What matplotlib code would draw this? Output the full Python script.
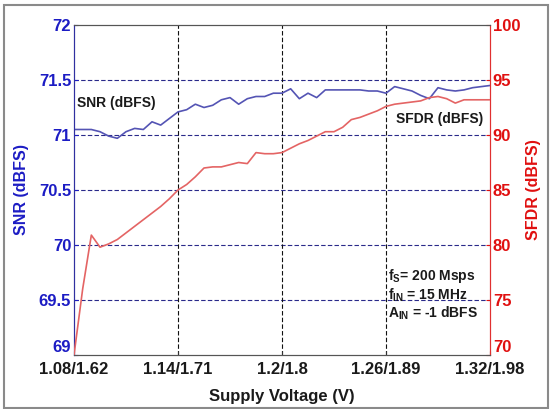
import matplotlib
matplotlib.use("Agg")
import matplotlib.pyplot as plt
from matplotlib.patches import Rectangle
import numpy as np

plt.rcParams['font.family'] = ['Liberation Sans', 'DejaVu Sans']

supply_v = [1.080, 1.085, 1.090, 1.095, 1.100, 1.105, 1.110, 1.115, 1.120, 1.125,
            1.130, 1.135, 1.140, 1.145, 1.150, 1.155, 1.160, 1.165, 1.170, 1.175,
            1.180, 1.185, 1.190, 1.195, 1.200, 1.205, 1.210, 1.215, 1.220, 1.225,
            1.230, 1.235, 1.240, 1.245, 1.250, 1.255, 1.260, 1.265, 1.270, 1.275,
            1.280, 1.285, 1.290, 1.295, 1.300, 1.305, 1.310, 1.315, 1.320]

snr = [71.05, 71.05, 71.05, 71.03, 70.99, 70.97, 71.03, 71.06, 71.05, 71.12,
       71.09, 71.15, 71.21, 71.23, 71.28, 71.25, 71.27, 71.32, 71.34, 71.28,
       71.33, 71.35, 71.35, 71.38, 71.38, 71.42, 71.33, 71.38, 71.34, 71.41,
       71.41, 71.41, 71.41, 71.41, 71.40, 71.40, 71.38, 71.44, 71.42, 71.40,
       71.36, 71.33, 71.43, 71.41, 71.40, 71.41, 71.43, 71.44, 71.45]

sfdr = [70.0, 76.0, 80.9, 79.8, 80.1, 80.5, 81.1, 81.7, 82.3, 82.9,
        83.5, 84.2, 85.0, 85.5, 86.2, 87.0, 87.1, 87.1, 87.3, 87.5,
        87.4, 88.4, 88.3, 88.3, 88.4, 88.8, 89.2, 89.5, 89.9, 90.3,
        90.3, 90.7, 91.4, 91.6, 91.9, 92.2, 92.6, 92.8, 92.9, 93.0,
        93.1, 93.4, 93.5, 93.3, 92.9, 93.2, 93.2, 93.2, 93.2]

xticks = [1.08, 1.14, 1.20, 1.26, 1.32]
xticklabels = ['1.08/1.62', '1.14/1.71', '1.2/1.8', '1.26/1.89', '1.32/1.98']
snr_ticks = [69, 69.5, 70, 70.5, 71, 71.5, 72]
snr_ticklabels = ['69', '69.5', '70', '70.5', '71', '71.5', '72']
sfdr_ticks = [70, 75, 80, 85, 90, 95, 100]

blue_txt = '#1c1cc4'
red_txt = '#e01010'
blue_line = '#5454b4'
red_line = '#e46464'

fig = plt.figure(figsize=(5.51, 4.09), dpi=100)
fig.patch.set_facecolor('white')
fig.patches.append(Rectangle((4/551, 1/409), 544/551, 403/409, transform=fig.transFigure,
                             fill=False, edgecolor='#8a8a8a', linewidth=1.5))

ax = fig.add_axes([74/551, 54/409, 416/551, 330/409])
ax2 = ax.twinx()

ax.set_xlim(1.08, 1.32)
ax.set_ylim(69, 72)
ax2.set_ylim(70, 100)

# grid
for yv in snr_ticks[1:-1]:
    ax.axhline(yv, color='#2a2a8a', linestyle=(0, (4, 2)), linewidth=0.8, zorder=1)
for xv in xticks[1:-1]:
    ax.axvline(xv, color='#111111', linestyle=(0, (4, 2)), linewidth=0.8, zorder=1)

ax.plot(supply_v, snr, color=blue_line, linewidth=1.2, zorder=3)
ax2.plot(supply_v, sfdr, color=red_line, linewidth=1.2, zorder=3)

ax.set_xticks(xticks)
ax.set_xticklabels(xticklabels, fontsize=12, fontweight='bold', color='#1a1a1a')
ax.set_yticks(snr_ticks)
ax.set_yticklabels(snr_ticklabels, fontsize=12, fontweight='bold', color=blue_txt)
ax2.set_yticks(sfdr_ticks)
ax2.set_yticklabels([str(v) for v in sfdr_ticks], fontsize=12, fontweight='bold', color=red_txt)
ax.get_yticklabels()[0].set_va('bottom')
ax2.get_yticklabels()[0].set_va('bottom')

ax.tick_params(axis='x', direction='in', length=3, pad=5, color='#333333')
ax.tick_params(axis='y', direction='in', length=3, pad=2, color=blue_txt)
ax2.tick_params(axis='y', direction='in', length=3, pad=2, color=red_txt)

ax.set_xlabel('Supply Voltage (V)', fontsize=12, fontweight='bold', color='#1a1a1a', labelpad=9)
ax.set_ylabel('SNR (dBFS)', fontsize=11.5, fontweight='bold', color=blue_txt)
ax2.set_ylabel('SFDR (dBFS)', fontsize=11.5, fontweight='bold', color=red_txt)
ax.yaxis.set_label_coords(-45/416, 0.5)
ax2.yaxis.set_label_coords(1 + 36/416, 0.5)

for s in ['top', 'bottom']:
    ax.spines[s].set_color('#555555')
    ax2.spines[s].set_color('#555555')
ax2.spines['left'].set_color('#3030a0')
ax2.spines['right'].set_color('#e03030')
ax.spines['left'].set_color('#3030a0')
ax.spines['right'].set_color('#e03030')

ax.text(1.0815, 71.29, 'SNR (dBFS)', fontsize=10, fontweight='bold', color='#1a1a1a', va='center')
ax.text(1.2658, 71.145, 'SFDR (dBFS)', fontsize=10, fontweight='bold', color='#1a1a1a', va='center')

ax.text(1.2612, 69.72, r'f$_\mathregular{S}$= 200 Msps', fontsize=10, fontweight='bold', color='#1a1a1a', va='center')
ax.text(1.2612, 69.54, r'f$_\mathregular{IN}$ = 15 MHz', fontsize=10, fontweight='bold', color='#1a1a1a', va='center')
ax.text(1.2612, 69.38, r'A$_\mathregular{IN}$ = -1 dBFS', fontsize=10, fontweight='bold', color='#1a1a1a', va='center')

fig.savefig('out.png', dpi=100, facecolor='white')
